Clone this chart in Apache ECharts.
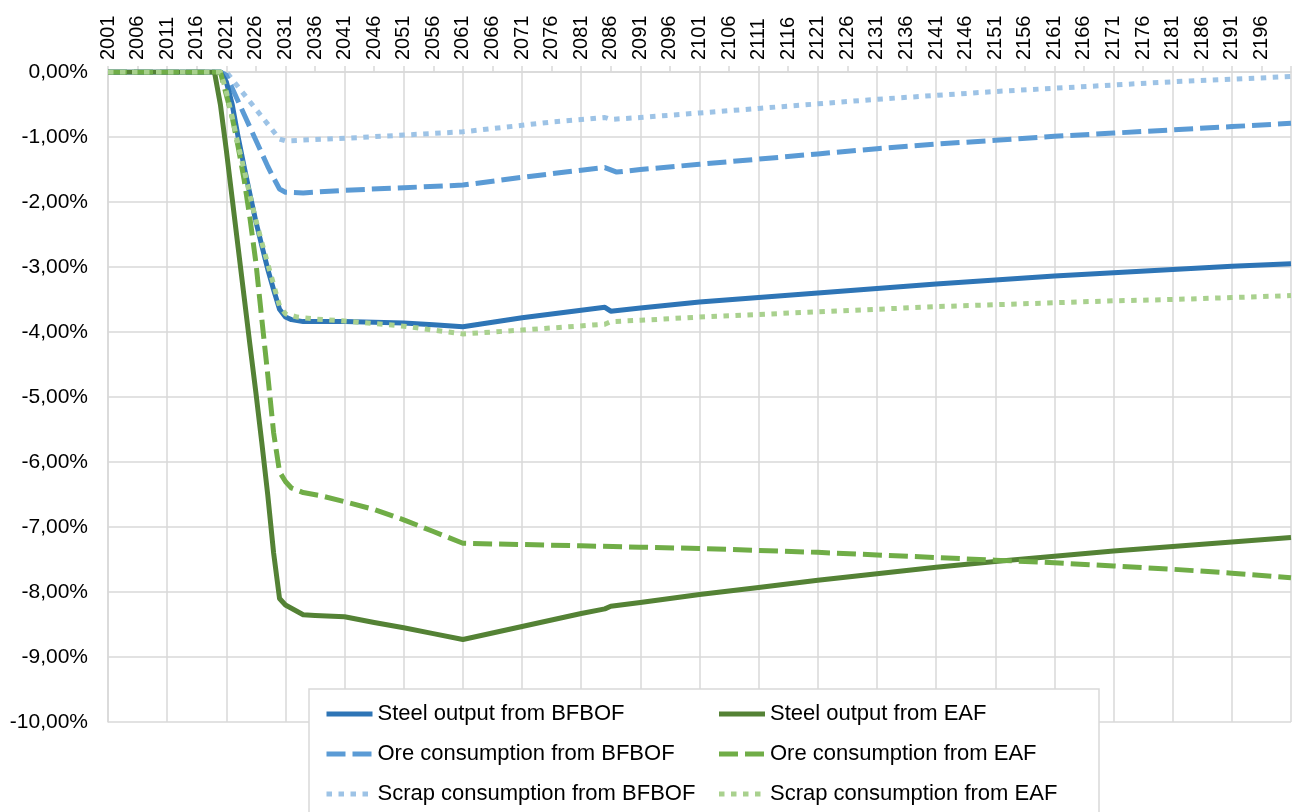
<!DOCTYPE html>
<html>
<head>
<meta charset="utf-8">
<script src="https://cdn.jsdelivr.net/npm/echarts@6/dist/echarts.min.js"></script>
<style>
html,body{margin:0;padding:0;background:#fff;}
#chart{width:1295px;height:812px;}
</style>
</head>
<body>
<div id="chart"></div>
<script>
// ---- Data ----
const firstYear = 2001;
const lastYear = 2201;
const seriesNames = [
  'Steel output from BFBOF',
  'Steel output from EAF',
  'Ore consumption from BFBOF',
  'Ore consumption from EAF',
  'Scrap consumption from BFBOF',
  'Scrap consumption from EAF'
];

const steelBfbofYears  = [2001,2020,2021,2022,2023,2024,2025,2026,2027,2028,2029,2030,2031,2032,2034,2041,2051,2056,2061,2071,2085,2086,2091,2101,2111,2121,2131,2141,2151,2161,2171,2181,2191,2201];
const steelBfbofValues = [0,0,-0.15,-0.5,-1.0,-1.45,-1.88,-2.3,-2.67,-3.03,-3.35,-3.65,-3.77,-3.81,-3.84,-3.84,-3.86,-3.89,-3.92,-3.78,-3.62,-3.68,-3.63,-3.54,-3.47,-3.40,-3.33,-3.26,-3.20,-3.14,-3.09,-3.04,-2.99,-2.95];

const steelEafYears  = [2001,2019,2020,2021,2022,2023,2024,2025,2026,2027,2028,2029,2030,2031,2032,2034,2036,2041,2046,2051,2056,2061,2071,2081,2085,2086,2091,2101,2111,2121,2131,2141,2151,2161,2171,2181,2191,2201];
const steelEafValues = [0,0,-0.5,-1.2,-1.95,-2.7,-3.45,-4.2,-4.93,-5.7,-6.5,-7.4,-8.1,-8.2,-8.25,-8.35,-8.36,-8.38,-8.47,-8.55,-8.64,-8.73,-8.53,-8.33,-8.26,-8.22,-8.16,-8.04,-7.93,-7.82,-7.72,-7.62,-7.53,-7.45,-7.37,-7.30,-7.23,-7.16];

const oreBfbofYears  = [2001,2020,2021,2022,2023,2024,2025,2026,2027,2028,2029,2030,2031,2034,2041,2051,2061,2071,2081,2085,2087,2091,2101,2111,2121,2131,2141,2151,2161,2171,2181,2191,2201];
const oreBfbofValues = [0,0,-0.05,-0.25,-0.45,-0.65,-0.85,-1.05,-1.25,-1.45,-1.63,-1.8,-1.85,-1.86,-1.82,-1.78,-1.74,-1.62,-1.51,-1.47,-1.54,-1.5,-1.42,-1.34,-1.26,-1.18,-1.11,-1.05,-0.99,-0.94,-0.89,-0.84,-0.79];

const oreEafYears  = [2001,2020,2021,2022,2023,2024,2025,2026,2027,2028,2029,2030,2031,2032,2034,2037,2041,2046,2051,2056,2061,2071,2081,2091,2101,2111,2121,2131,2141,2151,2161,2171,2181,2191,2201];
const oreEafValues = [0,0,-0.35,-0.7,-1.15,-1.65,-2.25,-2.93,-3.8,-4.65,-5.55,-6.15,-6.3,-6.4,-6.47,-6.52,-6.61,-6.73,-6.89,-7.07,-7.25,-7.27,-7.29,-7.31,-7.33,-7.36,-7.39,-7.43,-7.47,-7.51,-7.55,-7.60,-7.65,-7.71,-7.78];

const scrapBfbofYears  = [2001,2021,2030,2031,2036,2041,2051,2061,2071,2076,2085,2086,2091,2101,2111,2121,2131,2141,2151,2161,2171,2181,2191,2201];
const scrapBfbofValues = [0,0,-1.03,-1.06,-1.04,-1.02,-0.97,-0.92,-0.82,-0.77,-0.70,-0.73,-0.70,-0.63,-0.56,-0.49,-0.42,-0.36,-0.30,-0.25,-0.20,-0.15,-0.11,-0.07];

const scrapEafYears  = [2001,2020,2021,2022,2023,2024,2025,2026,2027,2028,2029,2030,2031,2033,2036,2041,2051,2061,2071,2085,2086,2091,2101,2111,2121,2131,2141,2151,2161,2171,2181,2191,2201];
const scrapEafValues = [0,0,-0.3,-0.7,-1.12,-1.5,-1.9,-2.28,-2.62,-2.95,-3.27,-3.6,-3.72,-3.77,-3.8,-3.83,-3.91,-4.03,-3.97,-3.88,-3.84,-3.82,-3.77,-3.73,-3.69,-3.65,-3.61,-3.58,-3.55,-3.52,-3.50,-3.47,-3.44];

// ---- Build ----
const categories = [];
for (let y = firstYear; y <= lastYear; y++) categories.push(String(y));

function pairs(years, values) {
  return years.map((y, i) => [String(y), values[i]]);
}

const FONT = 'Liberation Sans, Arial, Helvetica, sans-serif';
const GRID = '#d9d9d9';
const LW = 5;
const DASH = [19, 7];
const DOT = [5.5, 6.5];

function lineSeries(name, data, color, type) {
  return {
    name: name,
    type: 'line',
    data: data,
    showSymbol: false,
    symbol: 'none',
    smooth: false,
    lineStyle: { color: color, width: LW, type: type, cap: 'butt', join: 'round' },
    itemStyle: { color: color },
    emphasis: { disabled: true }
  };
}

const chart = echarts.init(document.getElementById('chart'), null, { renderer: 'canvas' });

const option = {
  animation: false,
  backgroundColor: '#fff',
  grid: { left: 108, right: 4, top: 72, bottom: 90, containLabel: false },
  xAxis: {
    type: 'category',
    position: 'top',
    data: categories,
    boundaryGap: false,
    axisLine: { show: true, lineStyle: { color: GRID, width: 1.5 } },
    axisTick: { show: true, interval: (i) => i % 5 === 0, length: 6, lineStyle: { color: GRID, width: 1.5 } },
    axisLabel: {
      show: true,
      interval: (i) => i % 5 === 0 && i < 200,
      rotate: 90,
      fontSize: 20,
      fontFamily: FONT,
      color: '#000',
      margin: 12
    },
    splitLine: { show: true, interval: (i) => i % 10 === 0, lineStyle: { color: GRID, width: 1.5 } }
  },
  yAxis: {
    type: 'value',
    min: -10,
    max: 0,
    interval: 1,
    axisLine: { show: true, lineStyle: { color: GRID, width: 1.5 } },
    axisTick: { show: false },
    axisLabel: {
      fontSize: 21,
      fontFamily: FONT,
      color: '#000',
      margin: 20,
      formatter: (v) => v.toFixed(2).replace('.', ',') + '%'
    },
    splitLine: { show: true, lineStyle: { color: GRID, width: 1.5 } }
  },
  legend: {
    show: true,
    data: seriesNames,
    left: 309,
    top: 689,
    width: 780,
    orient: 'horizontal',
    padding: [10, 0, 30, 15],
    itemGap: 10,
    itemWidth: 46,
    itemHeight: 14,
    backgroundColor: '#fff',
    borderColor: GRID,
    borderWidth: 1.5,
    itemStyle: { opacity: 0 },
    lineStyle: { width: 5, cap: 'butt' },
    textStyle: { fontSize: 22, fontFamily: FONT, color: '#000', width: 329, lineHeight: 30 },
    selectedMode: false
  },
  series: [
    lineSeries(seriesNames[4], pairs(scrapBfbofYears, scrapBfbofValues), '#9DC3E6', DOT),
    lineSeries(seriesNames[2], pairs(oreBfbofYears, oreBfbofValues), '#5B9BD5', DASH),
    lineSeries(seriesNames[0], pairs(steelBfbofYears, steelBfbofValues), '#2E75B6', 'solid'),
    lineSeries(seriesNames[1], pairs(steelEafYears, steelEafValues), '#548235', 'solid'),
    lineSeries(seriesNames[3], pairs(oreEafYears, oreEafValues), '#70AD47', DASH),
    lineSeries(seriesNames[5], pairs(scrapEafYears, scrapEafValues), '#A9D18E', DOT)
  ]
};
chart.setOption(option);
</script>
</body>
</html>
